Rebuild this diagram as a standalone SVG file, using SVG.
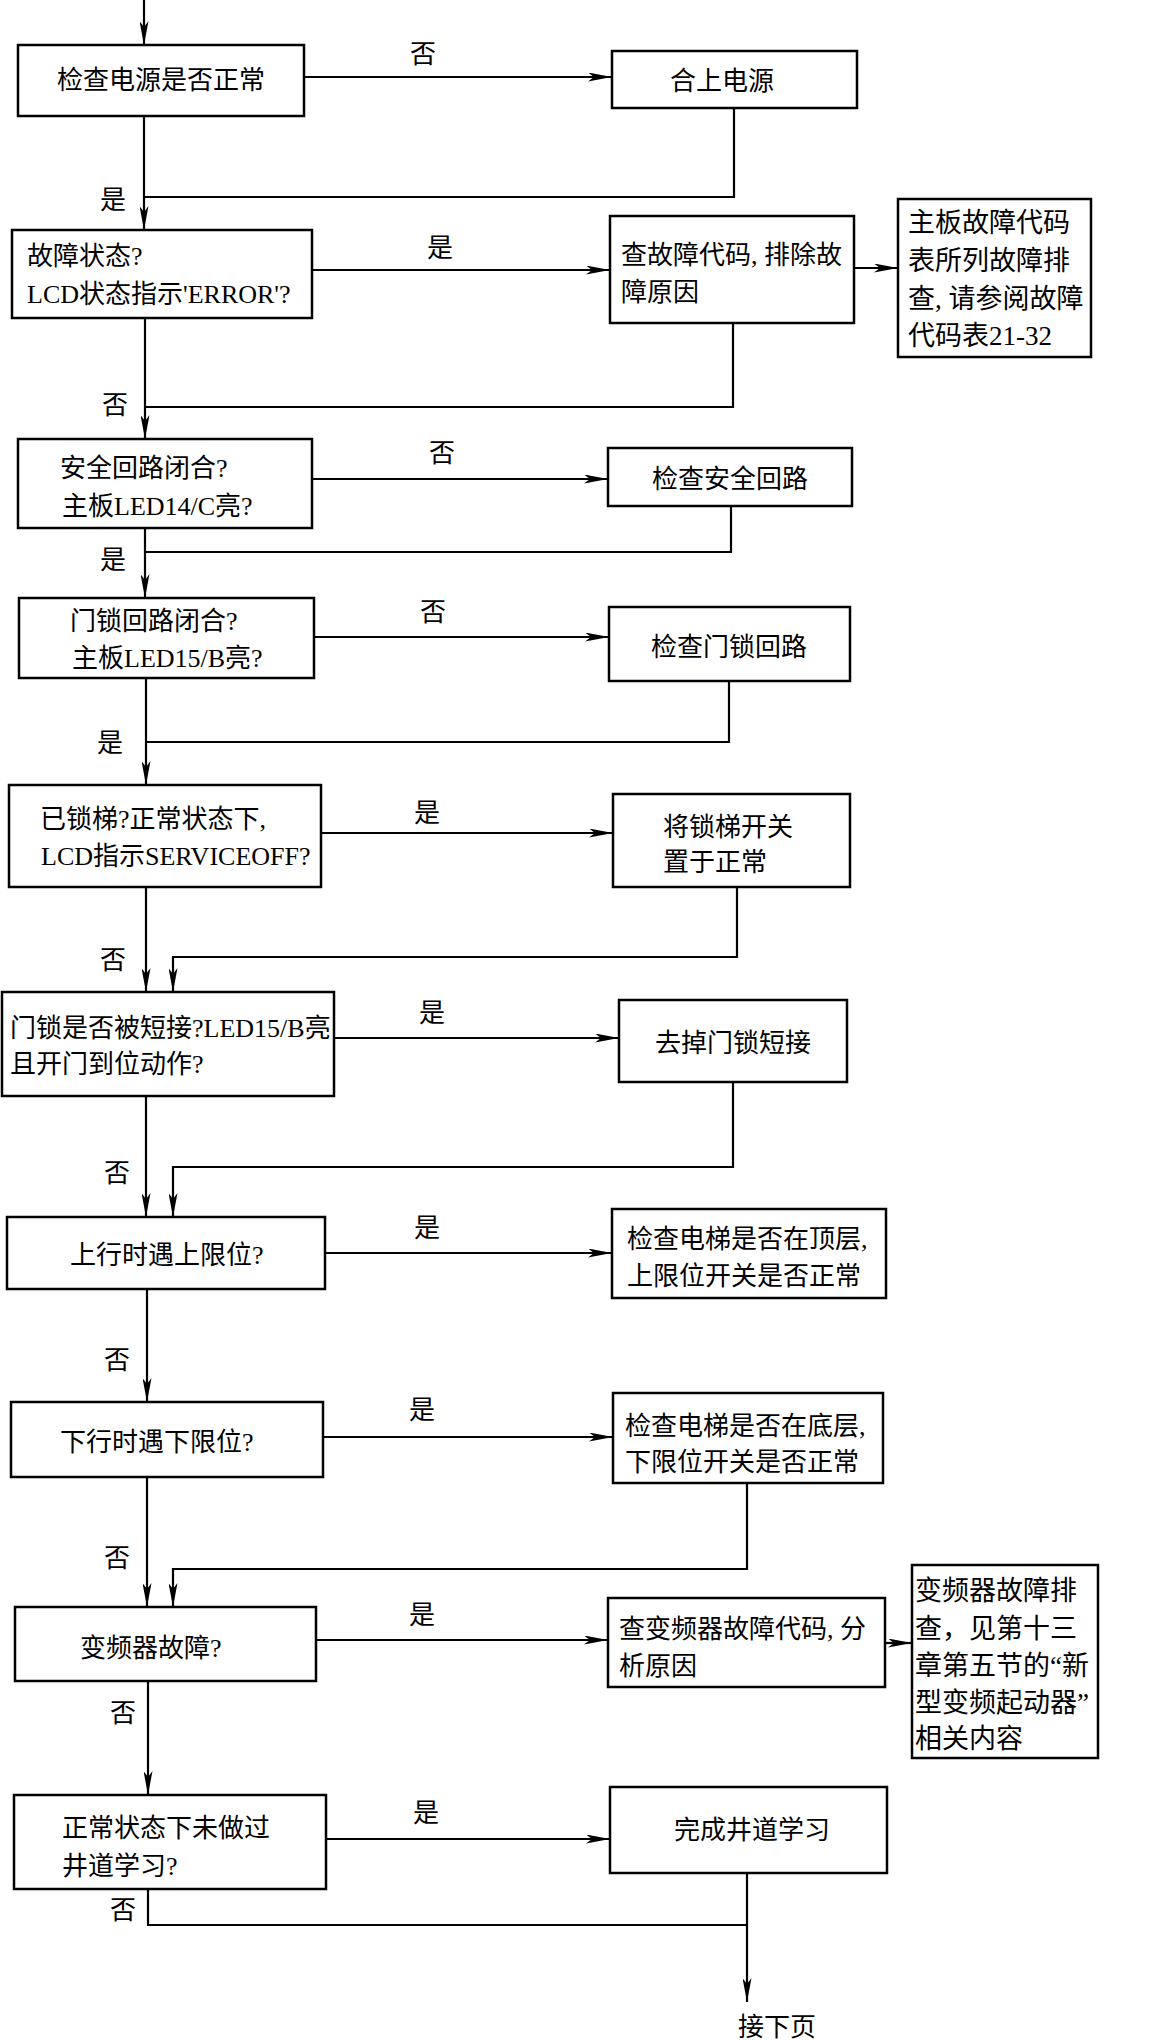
<svg xmlns="http://www.w3.org/2000/svg" width="1161" height="2040" viewBox="0 0 1161 2040">
<style>
rect{fill:#fff;stroke:#000;stroke-width:2.5}
text{font-family:"Liberation Serif","Noto Sans CJK SC",serif;font-size:26px;fill:#000}
.c{text-anchor:middle}
.s{font-size:27px}
#connectors path{fill:none;stroke:#000;stroke-width:2.2}
.a{marker-end:url(#ah)}
</style>
<defs>
<marker id="ah" markerUnits="userSpaceOnUse" viewBox="0 0 24 9" refX="24" refY="4.5" markerWidth="24" markerHeight="9" orient="auto">
<path d="M0,0 L24,4.5 L0,9 L6,4.5 z" fill="#000"/>
</marker>
</defs>
<rect x="0" y="0" width="1161" height="2040" style="fill:#fff;stroke:none"/>
<g id="connectors">
<path class="a" d="M144,0 V45"/>
<path class="a" d="M304,77 H612"/>
<path d="M734,108 V197 H145"/>
<path class="a" d="M144,116 V230"/>
<path class="a" d="M312,270 H610"/>
<path class="a" d="M854,268 H898"/>
<path d="M733,323 V407 H145"/>
<path class="a" d="M145,318 V439"/>
<path class="a" d="M312,479 H608"/>
<path d="M731,506 V552 H145"/>
<path class="a" d="M145,528 V598"/>
<path class="a" d="M314,637 H609"/>
<path d="M729,681 V742 H146"/>
<path class="a" d="M146,678 V785"/>
<path class="a" d="M321,833 H613"/>
<path class="a" d="M737,887 V957 H173 V992"/>
<path class="a" d="M146,887 V992"/>
<path class="a" d="M334,1038 H619"/>
<path class="a" d="M733,1082 V1167 H173 V1217"/>
<path class="a" d="M146,1096 V1217"/>
<path class="a" d="M325,1253 H612"/>
<path class="a" d="M147,1289 V1402"/>
<path class="a" d="M323,1437 H613"/>
<path class="a" d="M747,1483 V1569 H173 V1607"/>
<path class="a" d="M147,1477 V1607"/>
<path class="a" d="M316,1640 H608"/>
<path class="a" d="M885,1643 H912"/>
<path class="a" d="M148,1681 V1795"/>
<path class="a" d="M326,1839 H610"/>
<path d="M148,1889 V1925 H747"/>
<path class="a" d="M747,1873 V2002"/>
<text class="c" x="423" y="63">否</text>
<text class="c" x="113" y="209">是</text>
<text class="c" x="440" y="257">是</text>
<text class="c" x="115" y="414">否</text>
<text class="c" x="442" y="462">否</text>
<text class="c" x="113" y="569">是</text>
<text class="c" x="433" y="621">否</text>
<text class="c" x="110" y="752">是</text>
<text class="c" x="427" y="822">是</text>
<text class="c" x="113" y="969">否</text>
<text class="c" x="432" y="1022">是</text>
<text class="c" x="117" y="1182">否</text>
<text class="c" x="427" y="1237">是</text>
<text class="c" x="117" y="1369">否</text>
<text class="c" x="422" y="1419">是</text>
<text class="c" x="117" y="1567">否</text>
<text class="c" x="422" y="1624">是</text>
<text class="c" x="123" y="1722">否</text>
<text class="c" x="426" y="1822">是</text>
<text class="c" x="123" y="1919">否</text>
</g>
<g id="n1"><rect x="18" y="45" width="286" height="71"/><text class="c" x="161" y="89">检查电源是否正常</text></g>
<g id="n2"><rect x="612" y="51" width="245" height="57"/><text class="c" x="722" y="90">合上电源</text></g>
<g id="n3"><rect x="12" y="230" width="300" height="88"/><text x="27" y="265">故障状态?</text><text x="27" y="303">LCD状态指示'ERROR'?</text></g>
<g id="n4"><rect x="610" y="216" width="244" height="107"/><text x="621" y="264">查故障代码, 排除故</text><text x="621" y="301">障原因</text></g>
<g id="n5"><rect x="898" y="199" width="193" height="158"/><text class="s" x="908" y="232">主板故障代码</text><text class="s" x="908" y="270">表所列故障排</text><text class="s" x="908" y="308">查, 请参阅故障</text><text class="s" x="908" y="345">代码表21-32</text></g>
<g id="n6"><rect x="18" y="439" width="294" height="89"/><text x="60" y="477">安全回路闭合?</text><text x="62" y="515">主板LED14/C亮?</text></g>
<g id="n7"><rect x="608" y="448" width="244" height="58"/><text class="c" x="730" y="488">检查安全回路</text></g>
<g id="n8"><rect x="19" y="598" width="295" height="80"/><text x="70" y="630">门锁回路闭合?</text><text x="72" y="667">主板LED15/B亮?</text></g>
<g id="n9"><rect x="609" y="607" width="241" height="74"/><text class="c" x="729" y="656">检查门锁回路</text></g>
<g id="n10"><rect x="9" y="785" width="312" height="102"/><text x="40" y="828">已锁梯?正常状态下,</text><text x="41" y="865">LCD指示SERVICEOFF?</text></g>
<g id="n11"><rect x="613" y="794" width="237" height="93"/><text x="663" y="836">将锁梯开关</text><text x="663" y="871">置于正常</text></g>
<g id="n12"><rect x="2" y="992" width="332" height="104"/><text x="10" y="1037">门锁是否被短接?LED15/B亮</text><text x="10" y="1073">且开门到位动作?</text></g>
<g id="n13"><rect x="619" y="1000" width="228" height="82"/><text class="c" x="733" y="1052">去掉门锁短接</text></g>
<g id="n14"><rect x="7" y="1217" width="318" height="72"/><text x="70" y="1264">上行时遇上限位?</text></g>
<g id="n15"><rect x="612" y="1209" width="274" height="89"/><text x="627" y="1248">检查电梯是否在顶层,</text><text x="627" y="1285">上限位开关是否正常</text></g>
<g id="n16"><rect x="11" y="1402" width="312" height="75"/><text x="60" y="1451">下行时遇下限位?</text></g>
<g id="n17"><rect x="613" y="1393" width="270" height="90"/><text x="625" y="1435">检查电梯是否在底层,</text><text x="625" y="1471">下限位开关是否正常</text></g>
<g id="n18"><rect x="15" y="1607" width="301" height="74"/><text x="80" y="1657">变频器故障?</text></g>
<g id="n19"><rect x="608" y="1598" width="277" height="89"/><text x="619" y="1638">查变频器故障代码, 分</text><text x="619" y="1675">析原因</text></g>
<g id="n20"><rect x="912" y="1565" width="186" height="193"/><text class="s" x="915" y="1600">变频器故障排</text><text class="s" x="915" y="1638">查，见第十三</text><text class="s" x="915" y="1675">章第五节的“新</text><text class="s" x="915" y="1712">型变频起动器”</text><text class="s" x="915" y="1748">相关内容</text></g>
<g id="n21"><rect x="14" y="1795" width="312" height="94"/><text x="62" y="1837">正常状态下未做过</text><text x="62" y="1875">井道学习?</text></g>
<g id="n22"><rect x="610" y="1787" width="277" height="86"/><text class="c" x="752" y="1839">完成井道学习</text></g>
<g id="n23"><text class="c" x="777" y="2036">接下页</text></g>
</svg>
